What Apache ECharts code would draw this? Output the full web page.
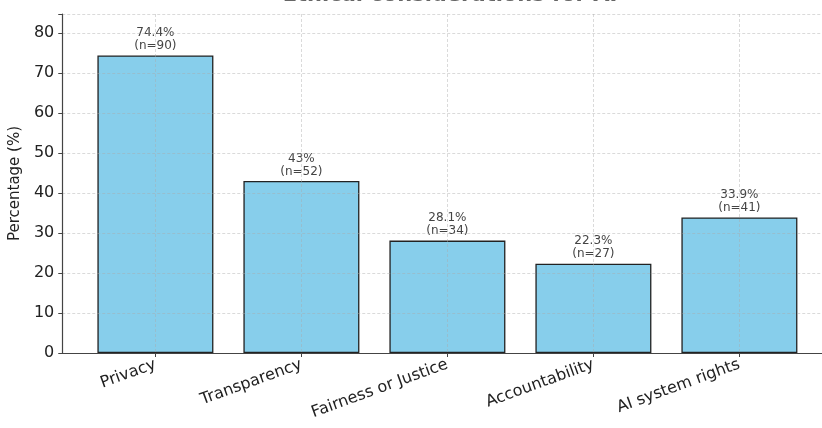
<!DOCTYPE html>
<html><head><meta charset="utf-8">
<script src="https://cdn.jsdelivr.net/npm/echarts@6/dist/echarts.min.js"></script>
<style>html,body{margin:0;padding:0;background:#fff}#c{width:822px;height:428px}</style>
</head><body><div id="c"></div>
<script>
const categories = ['Privacy', 'Transparency', 'Fairness or Justice', 'Accountability', 'AI system rights'];
const percentages = [74.4, 43, 28.1, 22.3, 33.9];
const counts = [90, 52, 34, 27, 41];
const titleText = 'Ethical considerations for AI';
const yAxisName = 'Percentage (%)';

const chart = echarts.init(document.getElementById('c'));
const gridLine = { show: true, lineStyle: { color: 'rgba(170,170,170,0.55)', type: [3, 2], width: 0.8 } };
chart.setOption({
  animation: false,
  title: { text: titleText, left: 445, textAlign: 'center', top: -20,
    textStyle: { fontSize: 21, fontWeight: 'bold', color: '#666', fontFamily: 'DejaVu Sans' } },
  grid: [
    { left: 82.4, right: 9.6, top: 14, bottom: 75 },
    { left: 62, right: 0, top: 14, bottom: 75 }
  ],
  xAxis: [
    { type: 'category', gridIndex: 0, data: categories, z: 3,
      axisLine: { show: false },
      axisTick: { show: true, alignWithLabel: true, length: 4, lineStyle: { color: '#444' } },
      splitLine: Object.assign({ alignWithLabel: true }, gridLine),
      axisLabel: { rotate: 20, fontSize: 16, color: '#222', fontFamily: 'DejaVu Sans', margin: 11, interval: 0 } },
    { type: 'value', gridIndex: 1, min: 0, max: 1, z: 3,
      axisLine: { show: true, lineStyle: { color: '#444', width: 1.2 } },
      axisTick: { show: false }, axisLabel: { show: false }, splitLine: { show: false } }
  ],
  yAxis: [
    { type: 'value', gridIndex: 0, min: 0, max: 84.75, show: false },
    { type: 'value', gridIndex: 1, min: 0, max: 84.75, interval: 10, z: 3,
      name: yAxisName, nameLocation: 'middle', nameGap: 37,
      nameTextStyle: { fontSize: 15, color: '#222', fontFamily: 'DejaVu Sans' },
      axisLine: { show: true, lineStyle: { color: '#444', width: 1.2 } },
      axisTick: { show: true, length: 4, lineStyle: { color: '#444' } },
      axisLabel: { fontSize: 16, color: '#222', fontFamily: 'DejaVu Sans', margin: 8,
        formatter: v => (v % 10 === 0 && v <= 80) ? String(v) : '' },
      splitLine: gridLine }
  ],
  series: [{
    type: 'bar', xAxisIndex: 0, yAxisIndex: 0, barWidth: 116,
    data: percentages,
    itemStyle: { color: '#87CEEB', borderColor: '#222', borderWidth: 1.3 },
    label: { show: true, position: 'top', distance: 3, fontSize: 12, lineHeight: 13,
      color: '#444', fontFamily: 'DejaVu Sans',
      formatter: p => p.value + '%\n(n=' + counts[p.dataIndex] + ')' }
  }]
});
</script></body></html>
